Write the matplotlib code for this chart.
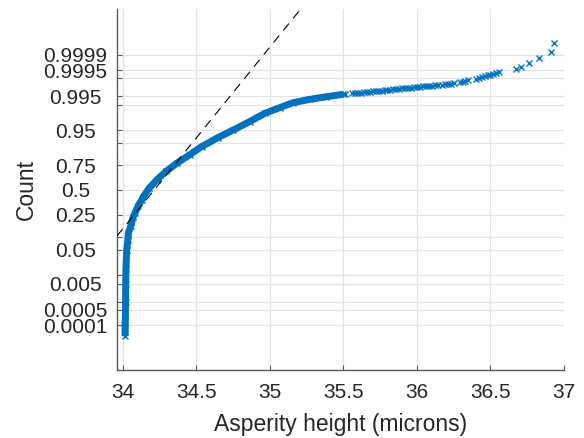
import numpy as np
import matplotlib
matplotlib.use('Agg')
import matplotlib.pyplot as plt
from statistics import NormalDist

# asperity heights (microns) and plotting probabilities
# dense part of the sample (drawn as a thick band)
band_x = [34.016, 34.016, 34.016, 34.016, 34.017, 34.018, 34.019, 34.020,
          34.022, 34.027, 34.035, 34.038, 34.054, 34.072, 34.083, 34.104,
          34.129, 34.140, 34.180, 34.231, 34.294, 34.367, 34.457, 34.536,
          34.647, 34.751, 34.864, 34.966, 35.068, 35.158, 35.270, 35.385,
          35.498]
band_p = [0.00003, 0.000077, 0.000104, 0.000148, 0.00018, 0.00025, 0.001, 0.005,
          0.015, 0.05, 0.085, 0.117, 0.16, 0.232, 0.261, 0.33,
          0.392, 0.427, 0.52, 0.608, 0.695, 0.768, 0.835, 0.883,
          0.925, 0.9503, 0.97, 0.9824, 0.9882, 0.99176, 0.9936, 0.99481,
          0.99572]

# upper tail, individual samples (x and 1 - p)
tail_x = [35.51, 35.56, 35.58, 35.60, 35.62, 35.64, 35.66, 35.68, 35.70, 35.72,
          35.74, 35.76, 35.78, 35.80, 35.82, 35.84, 35.86, 35.88, 35.90, 35.92,
          35.94, 35.96, 35.98, 36.00, 36.02, 36.04, 36.06, 36.08, 36.10, 36.12,
          36.14, 36.17, 36.19, 36.21, 36.23, 36.25, 36.29, 36.31, 36.33, 36.35,
          36.40, 36.42, 36.44, 36.46, 36.48, 36.50, 36.52, 36.54, 36.56,
          36.675, 36.709, 36.765, 36.828, 36.912, 36.93]
tail_q = [0.004232, 0.003990, 0.003896, 0.003804, 0.003715, 0.003627, 0.003541,
          0.003457, 0.003374, 0.003294, 0.003215, 0.003139, 0.003063, 0.002989,
          0.002917, 0.002846, 0.002778, 0.002710, 0.002643, 0.002579, 0.002516,
          0.002454, 0.002394, 0.002334, 0.002277, 0.002221, 0.002166, 0.002111,
          0.002059, 0.002007, 0.001957, 0.001884, 0.001836, 0.001790, 0.001739,
          0.001684, 0.001563, 0.001489, 0.001395, 0.001306, 0.001096, 0.001018,
          0.000948, 0.000883, 0.000822, 0.000767, 0.000713, 0.000664, 0.000608,
          0.000456, 0.000353, 0.000250, 0.000139, 0.0000775, 0.0000259]
tail_p = [1.0 - q for q in tail_q]

yticks = [0.0001, 0.0005, 0.001, 0.005, 0.01, 0.05, 0.1, 0.25, 0.5, 0.75,
          0.9, 0.95, 0.99, 0.995, 0.999, 0.9995, 0.9999]
ytick_labels = ['0.0001', '0.0005', '', '0.005', '', '0.05', '', '0.25', '0.5',
                '0.75', '', '0.95', '', '0.995', '', '0.9995', '0.9999']
xticks = [34, 34.5, 35, 35.5, 36, 36.5, 37]
xtick_labels = ['34', '34.5', '35', '35.5', '36', '36.5', '37']

blue = '#0072BD'
text_col = '#262626'

# normal probability scale
nd = NormalDist()
_inv = np.vectorize(nd.inv_cdf, otypes=[float])
_cdf = np.vectorize(nd.cdf, otypes=[float])


def probit(p):
    p = np.clip(np.asarray(p, dtype=float), 1e-15, 1 - 1e-15)
    return _inv(p)


def cdf(z):
    return _cdf(np.asarray(z, dtype=float))


plt.rcParams['font.family'] = ['Liberation Sans', 'DejaVu Sans']

fig = plt.figure(figsize=(5.84, 4.38), dpi=100)
ax = fig.add_axes([117 / 584, 1 - 370 / 438, 447 / 584, 361 / 438])
ax.set_yscale('function', functions=(probit, cdf))

xlim = (33.961, 37.0)
ylim = (3.8e-7, 1 - 3.3e-7)
ax.set_xlim(xlim)
ax.set_ylim(ylim)

ax.plot(band_x, band_p, '-', color=blue, lw=5, solid_capstyle='butt', zorder=3)
ax.plot(band_x, band_p, 'x', color=blue, ms=4, mew=1, zorder=3)
ax.plot(tail_x, tail_p, 'x', color=blue, ms=4, mew=1, zorder=3)

# reference line through the quartiles
q1 = np.interp(0.25, band_p, band_x)
q3 = np.interp(0.75, band_p, band_x)
z1, z3 = probit(0.25), probit(0.75)
slope = (z3 - z1) / (q3 - q1)
z_top = probit(ylim[1])
x0 = xlim[0]
x1 = q1 + (z_top - z1) / slope
line_z = [z1 + slope * (x0 - q1), z_top]
ax.plot([x0, x1], cdf(line_z), color='black', lw=0.8, ls=(0, (8, 6)), zorder=4)

ax.set_xticks(xticks)
ax.set_xticklabels(xtick_labels)
ax.set_yticks(yticks)
ax.set_yticklabels(ytick_labels)
ax.minorticks_off()
for lbl in ax.get_yticklabels():
    lbl.set_ha('center')

ax.grid(True, color='#e3e3e3', lw=0.9)
ax.set_axisbelow(True)
for s in ['top', 'right']:
    ax.spines[s].set_visible(False)
for s in ['left', 'bottom']:
    ax.spines[s].set_color('#5a5a5a')
    ax.spines[s].set_linewidth(1.0)

ax.tick_params(axis='both', direction='in', length=3.5, width=0.8,
               colors='#5a5a5a', labelcolor=text_col, labelsize=15)
ax.tick_params(axis='y', pad=30)
ax.tick_params(axis='x', pad=9)

ax.set_xlabel('Asperity height (microns)', fontsize=16.5, color=text_col, labelpad=8)
ax.set_ylabel('Count', fontsize=16.5, color=text_col, labelpad=4)

fig.savefig('out.png', dpi=100)
